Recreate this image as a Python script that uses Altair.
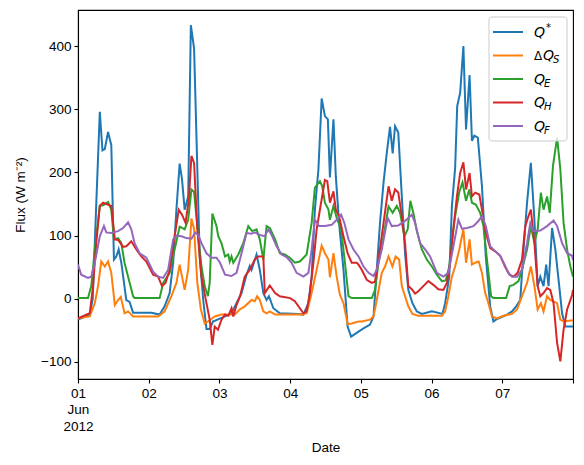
import altair as alt
import pandas as pd

# ---- data (hours since 2012-06-01 00:00, flux W m-2) ----
NAMES = ["Q*", "ΔQS", "QE", "QH", "QF"]
COLORS = ["#1f77b4", "#ff7f0e", "#2ca02c", "#d62728", "#9467bd"]

QSTAR_H = [0,4,5,6.2,7.4,8.3,9.1,10.2,11.3,12.2,
           13,13.8,14.7,16.4,17.5,18.7,21.5,24.9,27.7,29.4,
           31.1,32.3,33.4,34.5,35.3,36.2,37.4,38.3,39.4,41.3,
           42.5,43.6,44.7,45.8,49.9,52.1,53.8,55.5,57.2,58.3,
           58.9,60.6,61.7,62.9,64,64.8,66.3,68.5,74.8,76.5,
           78.2,79.3,80.4,81.6,82.7,83.8,84.8,85.5,86.7,87.5,
           88.6,90.1,91.5,92.7,95.2,96.9,99.1,100.3,101.4,102.5,
           103.7,104.8,105.9,106.8,107.6,108.7,109.9,111,112.1,113.5,
           115,116.7,120.1,123.7,124.6,126,126.9,128,128.7,129.7,
           130.8,131.7,132.9,133.7,134.5,135.7,137.1,138.4,139.9,141,
           142.2,145.6,147.3,148.7,150.1,151.2,152.4,153.7,154.9,156,
           156.9,158,158.9,159.7,160.9,162,163.1,164.3,165.4,168]
QSTAR_V = [-33,-25,0,150,296,235,237,264,243,62,
           67,78,57,-2,-5,-22,-22,-22,-25,-12,
           9,57,141,214,189,141,162,433,396,67,
           -2,-48,-48,-36,-28,-23,-7,9,38,52,
           46,70,46,9,-2,4,-15,-23,-24,-25,
           -7,35,141,205,317,289,284,192,284,194,
           120,46,-44,-60,-52,-47,-41,-28,46,120,
           184,231,272,230,273,263,162,72,14,-7,
           -20,-24,-20,-24,-7,35,147,207,305,326,
           400,268,354,250,258,255,178,67,-12,-36,
           -32,-25,-20,-12,-2,78,152,215,125,20,
           35,20,54,20,112,78,30,-23,-44,-44]

QS_H = [0,4,5.7,6.8,7.9,9.1,10.2,11.3,12.5,13.6,
        14.5,15.8,17,18.7,27.2,29.4,31.7,33.4,34.5,35.3,
        36.2,37.4,38.5,39.4,40.5,41.7,43,44.1,46.4,48.7,
        53.2,54.9,56.6,58.9,60,60.8,61.7,62.9,64,65.1,
        66.9,75.9,77.6,79.3,81,82.7,83.8,85,85.5,86.7,
        87.8,88.9,90.1,91.5,92.9,95.2,96.3,99.1,100.3,101.4,
        103.1,104.2,105.4,106.7,107.8,109,109.9,111,112.1,113.5,
        115.5,123.5,124.6,125.7,126.9,128,129.4,130.8,131.7,132.9,
        133.7,134.8,136,137.1,138.2,139.3,140.5,142.2,144.4,147.3,
        149,150.7,152.4,153.7,154.9,156,157.1,158,159.2,160.3,
        162.6,163.7,164.8,168]
QS_V = [-31,-28,-7,20,59,51,59,41,-10,-2,
        3,-23,-20,-28,-28,-20,4,25,54,35,
        14,46,127,110,25,-17,-39,-36,-28,-25,
        -25,-17,-12,-2,-4,4,-2,-20,-23,-20,
        -25,-25,-23,9,46,84,72,62,34,72,
        35,6,-7,-40,-39,-36,-36,-33,-28,-2,
        41,51,67,51,67,62,20,4,-12,-24,
        -27,-27,-20,4,35,51,78,110,57,94,
        54,57,59,41,9,-7,-28,-31,-27,-24,
        -17,4,25,51,20,-17,-7,-20,4,-2,
        -7,-33,-36,-34]

QE_H = [0,3.4,4.5,5.7,7.4,8.5,10.2,11.3,12.2,13.6,
        14.7,15.8,17,18.7,19.2,27.7,28.9,31.1,32.8,34.5,
        36.2,37.4,38.5,39.4,40.5,41.9,43,44.1,44.7,45.6,
        47,47.6,48.7,49.9,51,51.5,52.1,52.7,54.4,56.1,
        57.8,59.1,60.6,61.7,62.9,64,65.1,66.9,68.5,70.2,
        71.9,73.6,75.3,77.6,79.3,80.4,82.1,82.9,83.8,85,
        85.5,86.7,87.8,89.3,90.6,91.8,92.9,99.7,100.8,102,
        103.7,105.4,106.8,108.2,109.3,110.8,111.9,112.8,113.8,115,
        116.7,118.4,120.1,121.8,123.5,124.8,126,127.1,128,129.4,
        130.5,131.7,132.8,133.7,135,136.5,137.6,138.8,140.2,141,
        145.3,146.5,147.8,149.5,150.7,152.4,153.7,154.9,156,157.1,
        158,159.2,160.1,161.2,162.6,163.7,164.8,166,167.1,168]
QE_V = [1,1,20,78,147,148,153,141,94,96,
        88,57,35,4,1,1,25,41,78,114,
        110,125,173,169,115,51,20,4,25,135,
        115,99,88,67,70,59,67,57,70,88,
        115,107,110,94,62,115,112,94,72,70,
        65,57,59,70,120,176,186,178,152,141,
        125,147,128,110,57,4,1,1,14,57,
        99,146,136,147,136,99,110,155,136,107,
        78,62,51,38,28,29,51,99,131,169,
        184,155,173,152,149,136,115,62,4,1,
        1,20,22,28,46,78,115,88,110,168,
        141,162,136,210,255,205,120,78,51,35]

QH_H = [0,4,5.1,6.2,7.4,8.5,9.6,11.3,12.5,13.6,
        15.3,16.4,18.1,19.8,21.5,23.2,25.5,27.2,28.5,29.7,
        31.1,32.8,34.2,35.3,36.5,37.6,38.5,39.4,40.5,41.9,
        43.6,44.7,45.6,46.4,47.5,48.7,49.9,51,52.1,52.7,
        53.8,55,56.6,58.3,60,61.2,62.9,63.4,65.1,66.9,
        68.5,72,73.6,75.3,76.5,77.6,78.7,79.9,81,82.5,
        83.8,84.6,85.5,86.7,87.5,88.6,90.1,91.5,92.9,94.6,
        95.2,96.3,98,99.7,100.8,102,103.7,105.4,106.5,107.6,
        108.7,109.9,111,112.1,113.3,114.4,115.5,117.2,118.9,120.6,
        122.3,124,125.2,126.3,127.4,128.6,129.7,130.8,131.7,132.9,
        133.7,134.8,136.2,137.1,138.4,139.9,141.6,143.3,145,146.5,
        147.8,149.2,150.7,151.8,152.9,153.7,154.9,156,156.9,158,
        159.2,160.3,161.4,162.6,163.7,164.8,166,167.7,168]
QH_V = [-31,-23,20,88,147,152,150,147,94,93,
        82,83,91,78,67,59,38,35,20,25,
        46,99,141,133,120,157,226,215,110,35,
        -7,-33,-73,-44,-49,-33,-25,-27,-15,-28,
        -10,4,35,46,62,67,67,9,21,9,
        4,1,-4,-15,-23,-20,9,57,110,152,
        188,186,152,170,141,131,99,72,57,57,
        54,46,30,25,27,62,120,178,155,173,
        168,131,88,20,15,8,12,20,28,22,
        15,14,25,57,110,162,199,216,173,199,
        162,168,165,141,104,80,75,68,50,38,
        35,41,62,115,131,141,88,20,4,9,
        17,14,-7,-70,-99,-49,-17,6,14]

QF_H = [0,1.1,3.4,4.5,5.7,7.4,8.8,9.6,11.3,13.6,
        15.3,17,18.1,19.2,20.9,23.2,25.5,27.2,28.9,30.6,
        32.3,33.4,35.1,36.8,38.5,39.8,40.8,41.9,43.6,45.3,
        47,48.2,49.9,52.1,53.8,55.5,57.2,58.9,60,61.7,
        63.4,64.6,65.7,67.4,69.1,70.8,72.5,74.2,76.5,78.2,
        79.3,80.4,81.8,83.8,86.1,87.8,89.3,90.4,91.8,93.5,
        95.2,96.9,98.6,100.3,101.4,103.1,105.1,106.5,108.7,111,
        113.3,114.4,116.1,117.8,119.5,121.8,124,125.7,127.4,129.1,
        130.3,132,134.2,135.9,137.1,138.4,139.9,141.6,143.3,145,
        146,147.3,149,150.7,152.4,153.5,154.6,156.9,159.2,161.4,
        162.6,164.3,166,167.7,168]
QF_V = [54,38,33,35,57,99,115,105,104,107,
        112,121,110,88,72,65,43,35,33,46,
        94,100,99,96,95,105,101,88,72,65,
        65,57,38,36,41,72,104,103,105,101,
        99,110,101,83,70,66,57,41,35,41,
        78,125,115,115,117,125,133,120,94,78,
        67,51,41,36,46,78,128,115,116,123,
        133,120,88,78,67,41,35,41,83,125,
        111,112,115,123,131,115,83,75,68,52,
        41,35,35,46,88,120,107,108,115,124,
        115,88,72,68,61]

DAY_TICKS = [0, 24, 48, 72, 96, 120, 144, 168]
Y_TICKS = [-100, 0, 100, 200, 300, 400]

LEG_PRE = ["", "Δ", "", "", ""]
LEG_SUB = ["", "S", "E", "H", "F"]
LEG_SUP = ["*", "", "", "", ""]

# ---- build tables ----
frames = []
for name, h, v in zip(NAMES, [QSTAR_H, QS_H, QE_H, QH_H, QF_H],
                      [QSTAR_V, QS_V, QE_V, QH_V, QF_V]):
    d = pd.DataFrame({"hour": h, "flux": v})
    d["series"] = name
    frames.append(d)
data = pd.concat(frames, ignore_index=True)

FONT = "Liberation Sans"
W, H = 495, 369

x_enc = alt.X(
    "hour:Q",
    scale=alt.Scale(domain=[0, 168], nice=False, zero=False),
    axis=alt.Axis(
        values=DAY_TICKS,
        labelExpr="datum.value == 0 ? ['01', 'Jun', '2012'] : (datum.value >= 168 ? '' : '0' + (datum.value / 24 + 1))",
        title="Date",
        titleX=W / 2, titleY=68, titleBaseline="middle", titleAlign="center",
        labelLineHeight=16.5, labelBaseline="top", labelPadding=3,
        labelFlush=False,
    ),
)
y_enc = alt.Y(
    "flux:Q",
    scale=alt.Scale(domain=[-127, 457], nice=False, zero=False),
    axis=alt.Axis(
        values=Y_TICKS,
        title="Flux (W m⁻²)",
        titleX=-58, titleY=H / 2, titleAngle=270,
        titleAlign="center", titleBaseline="middle",
        labelPadding=3,
    ),
)

base = alt.Chart(data)
lines = []
for name, col in zip(NAMES, COLORS):
    lines.append(
        base.transform_filter(alt.datum.series == name)
        .mark_line(color=col, strokeWidth=2, clip=True)
        .encode(x=x_enc, y=y_enc)
    )
line_layer = alt.layer(*lines)

# ---- legend (drawn by hand so that sub/superscripts can be shown) ----
leg = pd.DataFrame({"series": NAMES, "row": list(range(5)),
                    "pre": LEG_PRE, "sub": LEG_SUB, "sup": LEG_SUP})
legbase = alt.Chart(leg).transform_calculate(
    yp="22 + datum.row * 23.5",
    yb="22 + datum.row * 23.5 + 4.5",
    ys="22 + datum.row * 23.5 + 7.5",
    yu="22 + datum.row * 23.5 - 1",
    qx="456 + (datum.pre == '' ? 0 : 9)",
    sx="456 + (datum.pre == '' ? 0 : 9) + 10",
    ux="456 + 12",
)

box = alt.Chart(pd.DataFrame({"k": [0]})).mark_rect(
    fill="white", fillOpacity=0.8, stroke="#cccccc", strokeWidth=1, cornerRadius=3
).encode(x=alt.value(411), x2=alt.value(489), y=alt.value(7), y2=alt.value(131))

swatch = legbase.mark_rule(strokeWidth=2).encode(
    x=alt.value(415), x2=alt.value(445),
    y=alt.Y("yp:Q", scale=None),
    color=alt.Color("series:N", scale=alt.Scale(domain=NAMES, range=COLORS), legend=None),
)
pre_t = legbase.mark_text(font="DejaVu Sans", fontSize=12, align="left",
                          baseline="alphabetic", color="black").encode(
    x=alt.value(456), y=alt.Y("yb:Q", scale=None), text="pre:N")
q_t = legbase.mark_text(font="DejaVu Sans", fontSize=14, fontStyle="italic",
                        align="left", baseline="alphabetic", color="black").encode(
    x=alt.X("qx:Q", scale=None), y=alt.Y("yb:Q", scale=None), text=alt.value("Q"))
sub_t = legbase.mark_text(font="DejaVu Sans", fontSize=10, fontStyle="italic",
                          align="left", baseline="alphabetic", color="black").encode(
    x=alt.X("sx:Q", scale=None), y=alt.Y("ys:Q", scale=None), text="sub:N")
sup_t = legbase.mark_text(font="DejaVu Sans", fontSize=10,
                          align="left", baseline="alphabetic", color="black").encode(
    x=alt.X("ux:Q", scale=None), y=alt.Y("yu:Q", scale=None), text="sup:N")

legend_layer = alt.layer(box, swatch, pre_t, q_t, sub_t, sup_t)

chart = alt.layer(line_layer, legend_layer).resolve_scale(
    x="independent", y="independent", color="independent"
).properties(
    width=W, height=H,
    autosize=alt.AutoSizeParams(type="none"),
    padding={"left": 70, "top": 2, "right": 3, "bottom": 78},
).configure_view(
    stroke="black", strokeWidth=1.1
).configure_axis(
    labelFont=FONT, titleFont=FONT, labelFontSize=13.5, titleFontSize=13.5,
    titleFontWeight="normal", labelColor="black", titleColor="black",
    tickColor="black", domainColor="black", domainWidth=1.1, tickWidth=1.1,
    tickSize=4, grid=False,
)

chart.save("out.html", embed_options={"renderer": "svg", "actions": False})
